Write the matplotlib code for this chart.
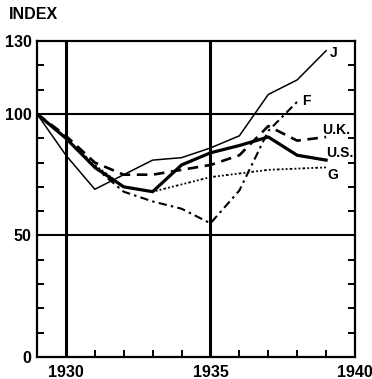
import matplotlib
matplotlib.use("Agg")
import matplotlib.pyplot as plt

years = [1929, 1930, 1931, 1932, 1933, 1934, 1935, 1936, 1937, 1938, 1939]
japan = [100, 83, 69, 75, 81, 82, 86, 91, 108, 114, 126]
us = [100, 90, 78, 70, 68, 79, 84, 87, 90.5, 83, 81]
uk = [100, 91, 80, 75, 75, 77, 79, 83, 95, 89, 90.5]
germany = [100, 90, 79, 70, 68, 71, 74, 75.5, 77, 77.5, 78]
france_years = [1929, 1930, 1931, 1932, 1933, 1934, 1935, 1936, 1937, 1938]
france = [100, 90, 78, 68, 64, 61, 55, 68.5, 93, 105]

y_labels = ["0", "50", "100", "130"]
y_label_vals = [0, 50, 100, 130]
x_labels = ["1930", "1935", "1940"]
x_label_vals = [1930, 1935, 1940]

plt.rcParams['font.family'] = ['Liberation Sans', 'DejaVu Sans']
plt.rcParams['font.weight'] = 'bold'

fig = plt.figure(figsize=(3.72, 3.79), dpi=100)
ax = fig.add_axes([37/372, 1-357/379, (355-37)/372, (357-41)/379])
ax.set_xlim(1929, 1940)
ax.set_ylim(0, 130)

# grid lines
for xv in [1930, 1935]:
    ax.axvline(xv, color='black', lw=2.2, zorder=1)
for yv in [50, 100]:
    ax.axhline(yv, color='black', lw=1.5, zorder=1)

ax.plot(years, japan, color='black', lw=1.1, zorder=3)
ax.plot(years, us, color='black', lw=2.3, zorder=3)
ax.plot(years, uk, color='black', lw=1.9, linestyle=(0, (4, 2.5)), zorder=3)
ax.plot(years, germany, color='black', lw=1.3, linestyle=(0, (1.5, 1.2, 1.0, 1.2, 1.0, 1.2)), zorder=3)
ax.plot(france_years, france, color='black', lw=1.5, linestyle=(0, (4, 2, 1.2, 2)), zorder=3)

lab_kw = dict(fontsize=10, fontweight='bold', ha='left', va='center', color='black')
ax.text(1939.14, 125, "J", **lab_kw)
ax.text(1938.17, 105.5, "F", **lab_kw)
ax.text(1938.88, 93.5, "U.K.", **lab_kw)
ax.text(1939.0, 84, "U.S.", **lab_kw)
ax.text(1939.05, 75, "G", **lab_kw)

for s in ax.spines.values():
    s.set_linewidth(1.6)

ax.set_yticks(list(range(0, 131, 10)))
ax.set_yticklabels([str(v) if v in y_label_vals else "" for v in range(0, 131, 10)])
ax.set_xticks(list(range(1929, 1941)))
ax.set_xticklabels([str(v) if v in x_label_vals else "" for v in range(1929, 1941)])
ax.tick_params(axis='both', direction='in', length=5, width=1.4, labelsize=11.5)
ax.tick_params(axis='y', right=True, pad=4)
ax.tick_params(axis='x', pad=6)
ax.text(-0.09, 1.06, "INDEX", transform=ax.transAxes, fontsize=11.5,
        fontweight='bold', ha='left', va='bottom')

fig.savefig("out.png", dpi=100)
